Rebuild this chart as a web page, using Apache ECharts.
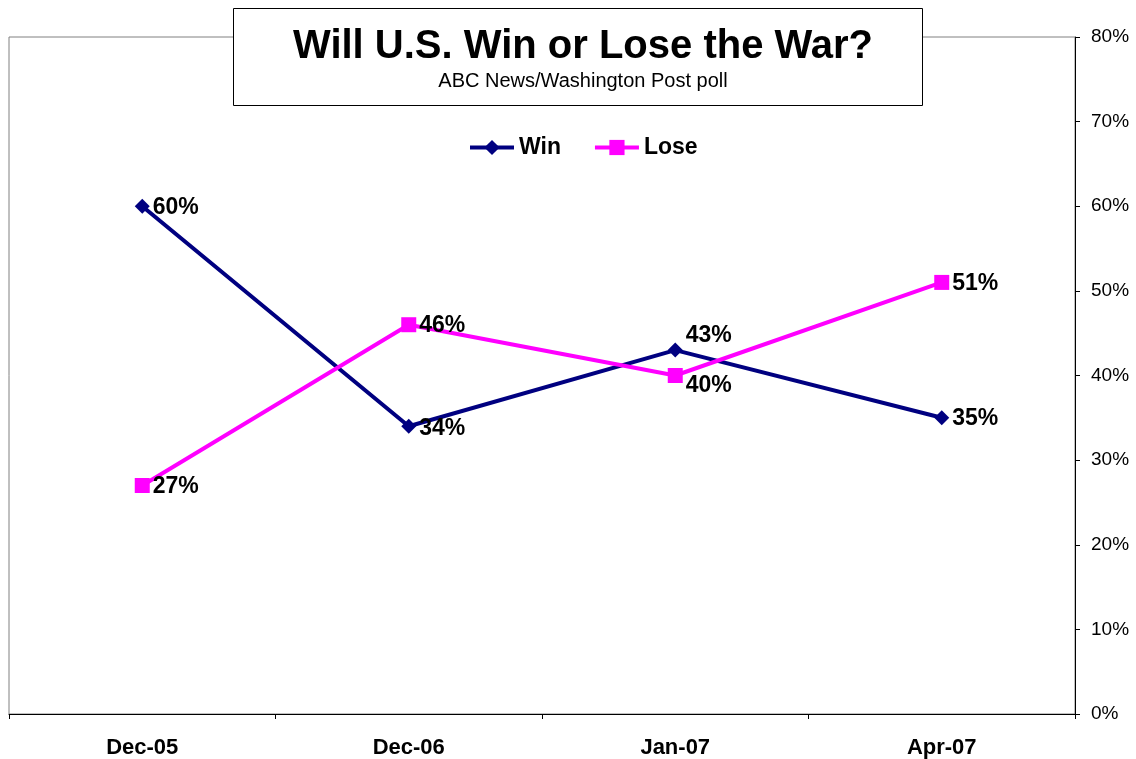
<!DOCTYPE html>
<html><head><meta charset="utf-8">
<script src="https://cdn.jsdelivr.net/npm/echarts@6/dist/echarts.min.js"></script>
<style>html,body{margin:0;padding:0;background:#fff}#c{width:1136px;height:759px}</style>
</head><body><div id="c"></div>
<script>
const categories = ['Dec-05', 'Dec-06', 'Jan-07', 'Apr-07'];
const winValues = [60, 34, 43, 35];
const loseValues = [27, 46, 40, 51];
const winLabelOffsets = [[0, 1], [0, 2], [0, -14], [0, 1]];
const loseLabelOffsets = [[0, 1], [0, 1], [0, 10], [0, 1]];

const chart = echarts.init(document.getElementById('c'));
const F = 'Arial, "Liberation Sans", sans-serif';
function mkData(vals, offs) {
  return vals.map((v, i) => ({ value: v, label: { offset: offs[i] } }));
}
chart.setOption({
  animation: false,
  backgroundColor: '#fff',
  grid: { left: 9, right: 61, top: 37, bottom: 45, show: true, borderColor: '#808080', borderWidth: 1, containLabel: false },
  graphic: [{ type: 'rect', z: 5, shape: { x: 233.5, y: 8.5, width: 689, height: 97 }, style: { fill: '#fff', stroke: '#000', lineWidth: 1 } }],
  title: {
    text: 'Will U.S. Win or Lose the War?',
    subtext: 'ABC News/Washington Post poll',
    left: 578, top: 22, textAlign: 'center', z: 10, itemGap: 4,
    textStyle: { fontFamily: F, fontWeight: 'bold', fontSize: 40, color: '#000' },
    subtextStyle: { fontFamily: F, fontSize: 20, color: '#000' }
  },
  legend: {
    top: 131, left: 463, itemWidth: 44, itemHeight: 19, itemGap: 32,
    lineStyle: { width: 4 },
    textStyle: { fontFamily: F, fontWeight: 'bold', fontSize: 23, color: '#000' },
    data: ['Win', 'Lose']
  },
  xAxis: {
    type: 'category', data: categories, boundaryGap: true,
    axisLine: { lineStyle: { color: '#000', width: 1 } },
    axisTick: { show: true, length: 5, inside: false, lineStyle: { color: '#000' } },
    axisLabel: { fontFamily: F, fontWeight: 'bold', fontSize: 22, color: '#000', margin: 23 }
  },
  yAxis: {
    type: 'value', position: 'right', min: 0, max: 80, interval: 10,
    axisLine: { show: true, lineStyle: { color: '#000', width: 1 } },
    axisTick: { show: true, length: 5, lineStyle: { color: '#000' } },
    splitLine: { show: false },
    axisLabel: { fontFamily: F, fontSize: 19, color: '#000', margin: 16, formatter: '{value}%' }
  },
  series: [
    {
      name: 'Win', type: 'line', data: mkData(winValues, winLabelOffsets),
      symbol: 'diamond', symbolSize: 15,
      itemStyle: { color: '#000080' }, lineStyle: { color: '#000080', width: 4 },
      label: { show: true, position: 'right', distance: 3, formatter: '{c}%', fontFamily: F, fontWeight: 'bold', fontSize: 23, color: '#000' }
    },
    {
      name: 'Lose', type: 'line', data: mkData(loseValues, loseLabelOffsets),
      symbol: 'rect', symbolSize: 15,
      itemStyle: { color: '#FF00FF' }, lineStyle: { color: '#FF00FF', width: 4 },
      label: { show: true, position: 'right', distance: 3, formatter: '{c}%', fontFamily: F, fontWeight: 'bold', fontSize: 23, color: '#000' }
    }
  ]
});
</script>
</body></html>
